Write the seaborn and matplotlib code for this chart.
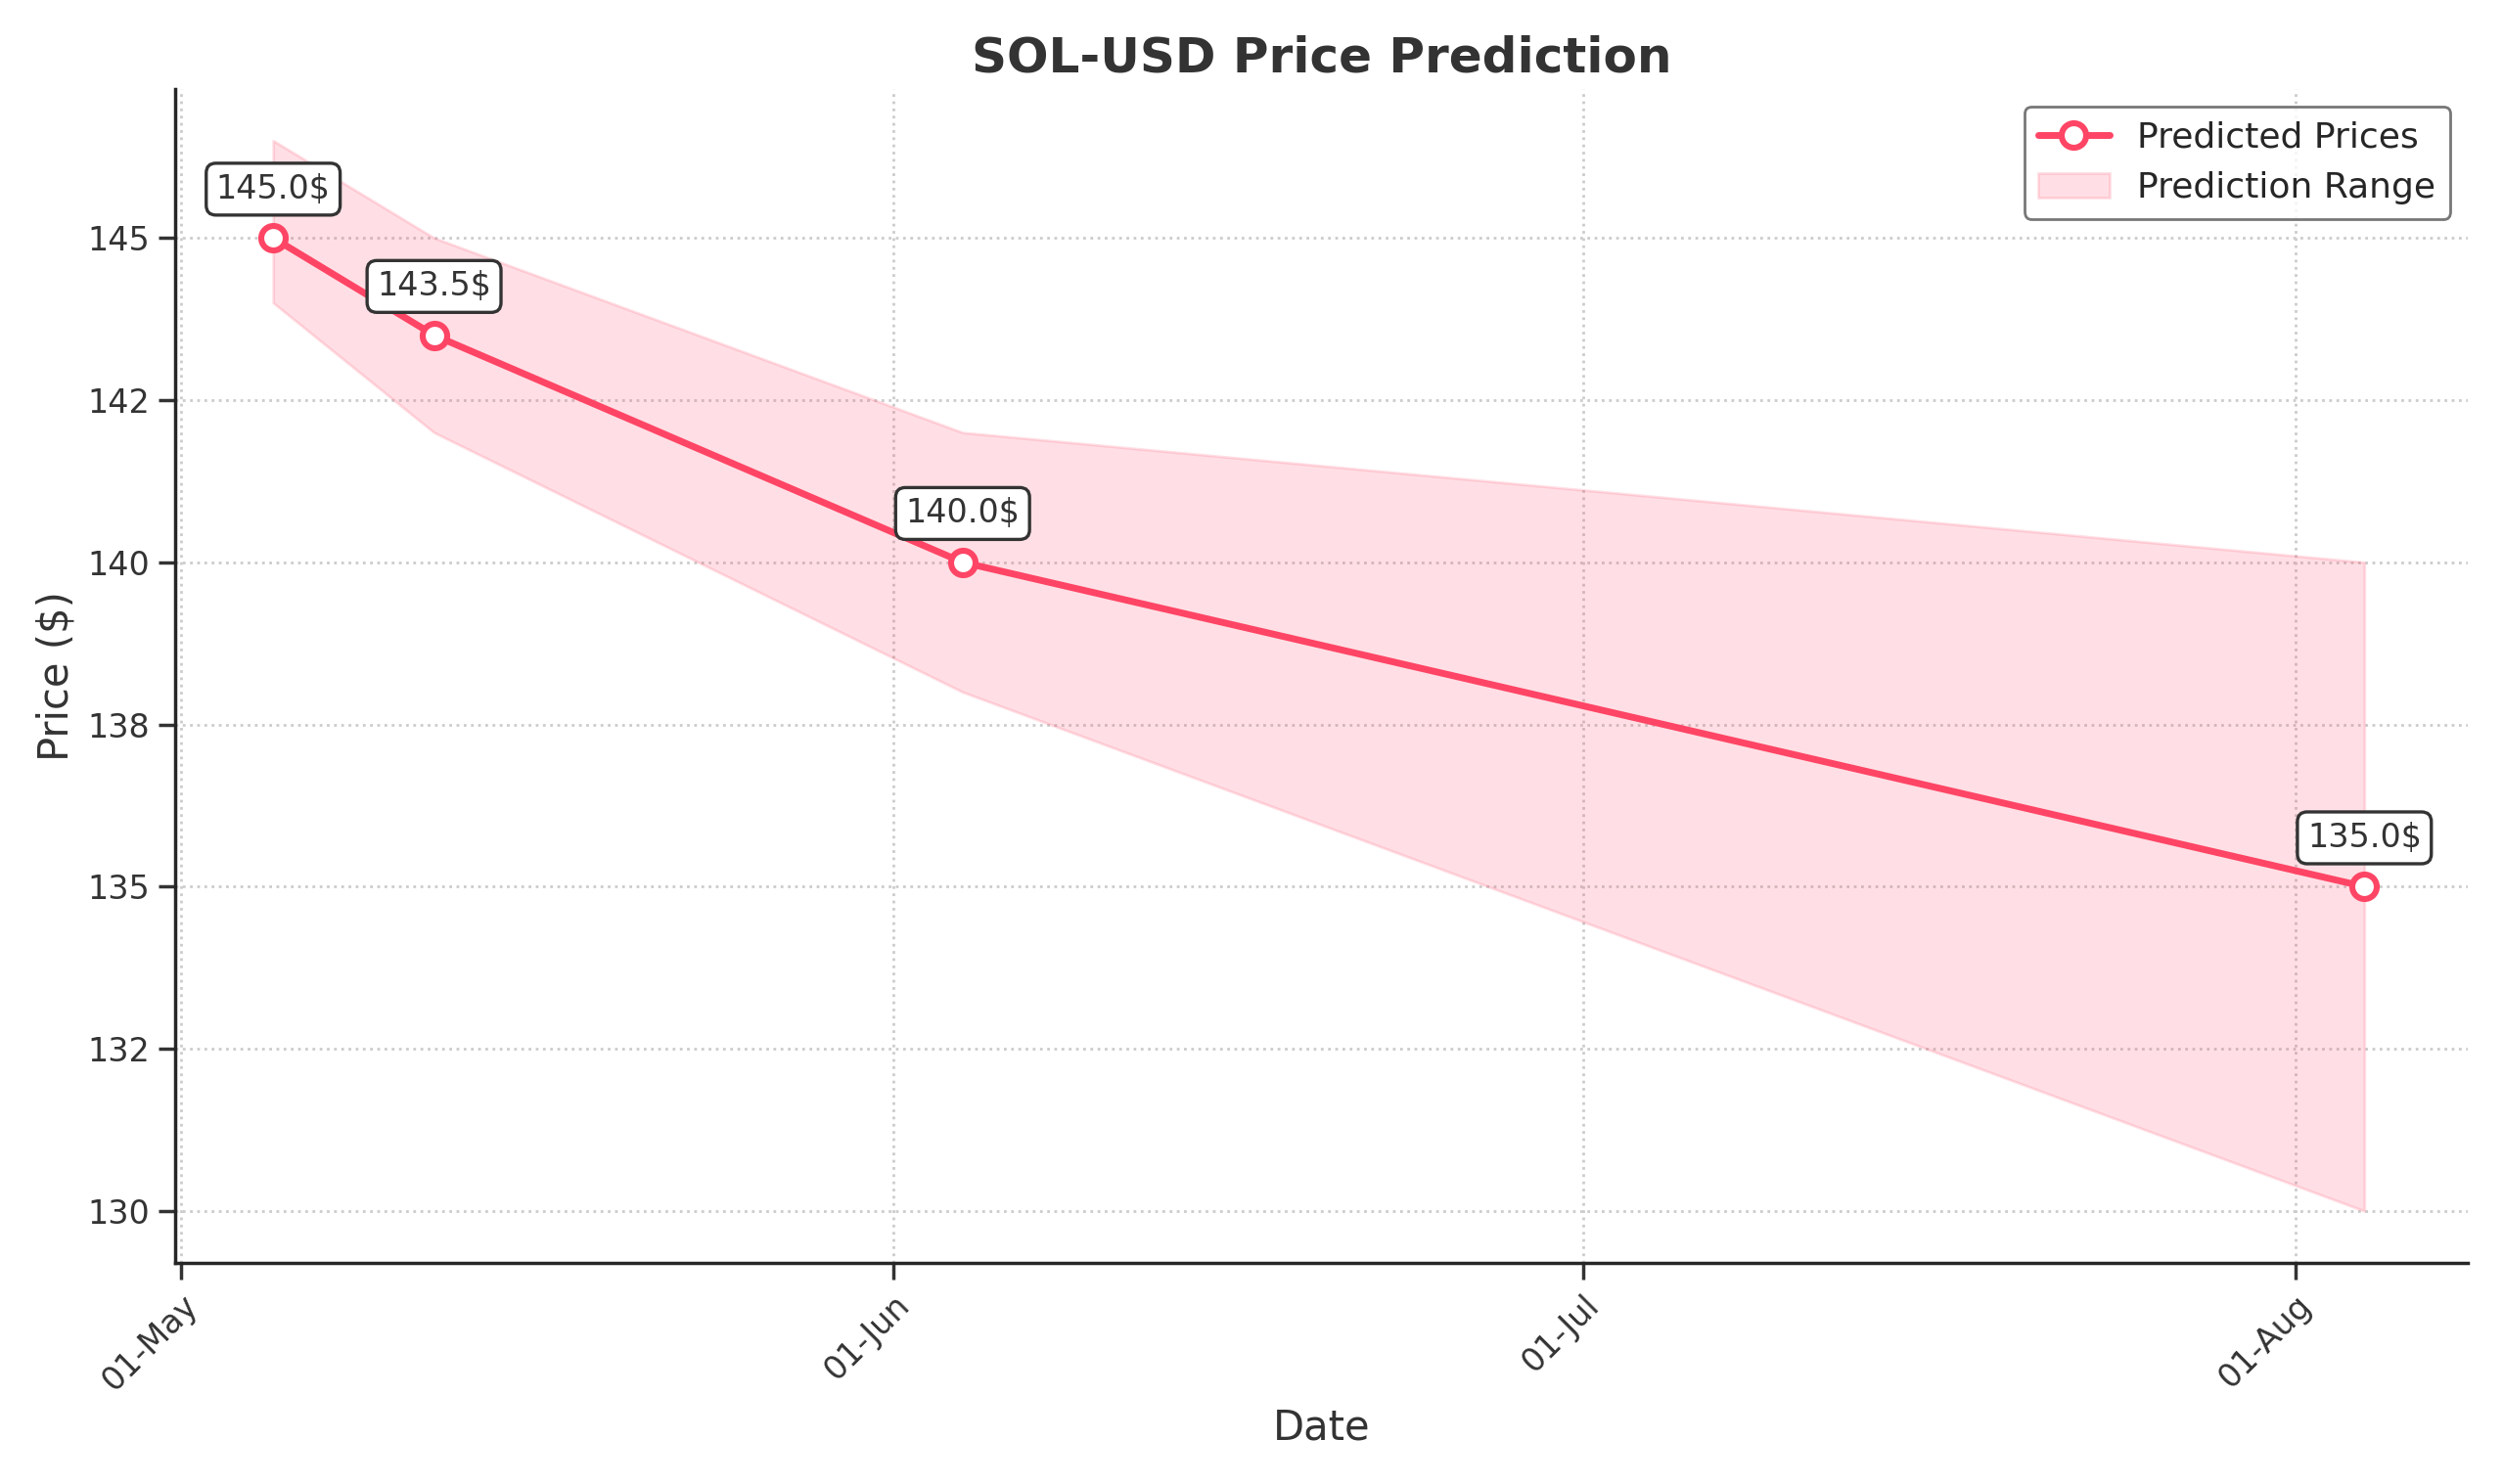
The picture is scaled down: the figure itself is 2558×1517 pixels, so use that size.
import matplotlib
matplotlib.use("Agg")
import matplotlib.pyplot as plt
import matplotlib.dates as mdates
import seaborn as sns
import pandas as pd

dates = ["2024-05-05", "2024-05-12", "2024-06-04", "2024-08-04"]
predicted = [145.0, 143.5, 140.0, 135.0]
upper = [146.5, 145.0, 142.0, 140.0]
lower = [144.0, 142.0, 138.0, 130.0]

df = pd.DataFrame({"Date": pd.to_datetime(dates), "Price": predicted,
                   "Upper": upper, "Lower": lower})

sns.set_theme(style="ticks")
fig, ax = plt.subplots(figsize=(12.79, 7.585), dpi=200)
color = "#FF4565"
sns.lineplot(data=df, x="Date", y="Price", ax=ax, color=color, linewidth=2.5,
             marker="o", markersize=9, markerfacecolor="white",
             markeredgecolor=color, markeredgewidth=2.2, label="Predicted Prices", zorder=3)
ax.fill_between(df["Date"], df["Lower"], df["Upper"], color=color, alpha=0.17,
                label="Prediction Range", zorder=1)
for d, p in zip(df["Date"], df["Price"]):
    ax.annotate(f"{p:.1f}$", (d, p), xytext=(0, 12), textcoords="offset points",
                ha="center", va="bottom", fontsize=12, color="#333333",
                bbox=dict(boxstyle="round,pad=0.3", fc="white", ec="#333333", lw=1.2))
ax.xaxis.set_major_locator(mdates.MonthLocator())
ax.xaxis.set_major_formatter(mdates.DateFormatter("%d-%b"))
ax.set_xlim(pd.Timestamp("2024-04-30 18:00"), pd.Timestamp("2024-08-08 12:00"))
ax.set_ylim(129.2, 147.3)
ax.set_yticks([130, 132.5, 135, 137.5, 140, 142.5, 145])
ax.yaxis.set_major_formatter(matplotlib.ticker.FormatStrFormatter("%.0f"))
plt.setp(ax.get_xticklabels(), rotation=45, ha="right", rotation_mode="anchor")
ax.grid(True, linestyle=":", color="#cccccc", linewidth=1)
ax.set_title("SOL-USD Price Prediction", fontsize=18, fontweight="bold", color="#333333")
ax.set_xlabel("Date", fontsize=15, color="#333333")
ax.set_ylabel("Price ($)", fontsize=15, color="#333333")
ax.tick_params(labelsize=12, colors="#333333")
sns.despine(ax=ax)
h, l = ax.get_legend_handles_labels()
ax.legend(h, l, loc="upper right", fontsize=13, frameon=True, edgecolor="#555555")
fig.tight_layout()
fig.savefig("out.png", dpi=200)
